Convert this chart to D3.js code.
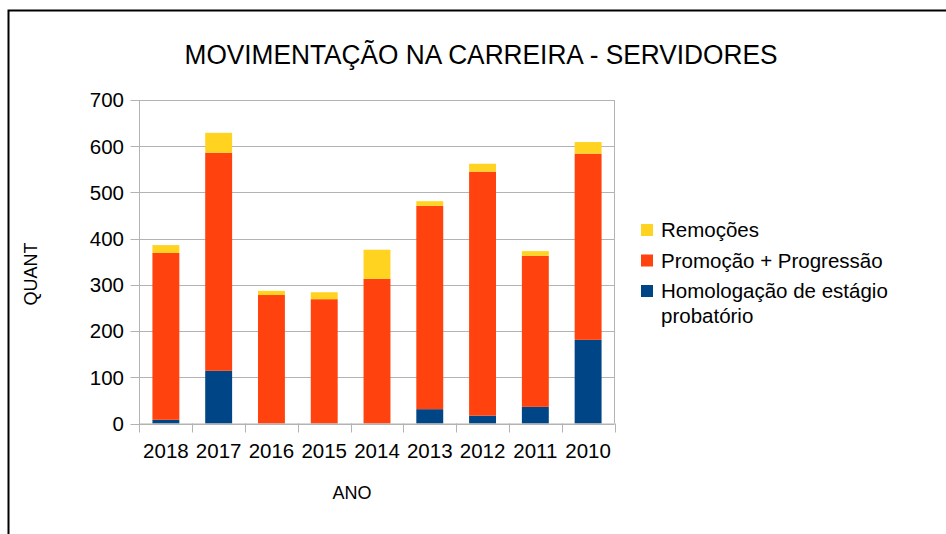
<!DOCTYPE html>
<html>
<head>
<meta charset="utf-8">
<script src="https://cdn.jsdelivr.net/npm/d3@7"></script>
<style>
  body { margin: 0; background: #fff; }
  svg text { font-family: "Liberation Sans", Arial, sans-serif; fill: #000; }
</style>
</head>
<body>
<svg id="chart" width="946" height="534"></svg>
<script>
// data
const anos = ["2018", "2017", "2016", "2015", "2014", "2013", "2012", "2011", "2010"];
const homologacao = [8, 114, 0, 0, 0, 31, 17, 36, 181];
const promocao = [361, 472, 278, 269, 313, 440, 528, 327, 403];
const remocoes = [17, 43, 9, 15, 63, 10, 17, 10, 25];
const yTicks = [0, 100, 200, 300, 400, 500, 600, 700];
const seriesNames = ["Homologação de estágio probatório", "Promoção + Progressão", "Remoções"];
const colors = ["#004586", "#ff420e", "#ffd320"];

const svg = d3.select("#chart");

// outer frame (runs off right / bottom edge)
svg.append("rect")
    .attr("x", 8.5).attr("y", 10.5)
    .attr("width", 960).attr("height", 560)
    .attr("fill", "none")
    .attr("stroke", "#000")
    .attr("stroke-width", 2);

const plot = { left: 139.5, right: 614.5, top: 100, bottom: 423.5 };

const x = d3.scaleBand().domain(anos).range([plot.left, plot.right]).padding(0);
const y = d3.scaleLinear().domain([0, 700]).range([plot.bottom, plot.top]);

// gridlines
svg.append("g")
    .selectAll("line")
    .data(yTicks)
    .join("line")
    .attr("x1", plot.left - 9).attr("x2", plot.right)
    .attr("y1", d => Math.round(y(d)) + 0.5)
    .attr("y2", d => Math.round(y(d)) + 0.5)
    .attr("stroke", "#b3b3b3")
    .attr("stroke-width", 1);

// plot wall right side + axis line
svg.append("line")
    .attr("x1", plot.right).attr("x2", plot.right)
    .attr("y1", plot.top).attr("y2", plot.bottom)
    .attr("stroke", "#b3b3b3");
svg.append("line")
    .attr("x1", plot.left).attr("x2", plot.left)
    .attr("y1", plot.top).attr("y2", plot.bottom + 9)
    .attr("stroke", "#b3b3b3");

// x tick marks at category boundaries
svg.append("g")
    .selectAll("line")
    .data(anos)
    .join("line")
    .attr("x1", d => Math.round(x(d) + x.step()) + 0.5)
    .attr("x2", d => Math.round(x(d) + x.step()) + 0.5)
    .attr("y1", plot.bottom).attr("y2", plot.bottom + 9)
    .attr("stroke", "#b3b3b3");

// stacked bars
const rows = anos.map((a, i) => ({ ano: a, h: homologacao[i], p: promocao[i], r: remocoes[i] }));
const stack = d3.stack().keys(["h", "p", "r"])(rows);
const barW = x.bandwidth() * 0.51;

svg.append("g")
    .selectAll("g")
    .data(stack)
    .join("g")
    .attr("fill", (d, i) => colors[i])
    .selectAll("rect")
    .data(d => d)
    .join("rect")
    .attr("x", d => x(d.data.ano) + (x.bandwidth() - barW) / 2)
    .attr("width", barW)
    .attr("y", d => y(d[1]))
    .attr("height", d => y(d[0]) - y(d[1]));

// bottom axis line redraw
svg.append("line")
    .attr("x1", plot.left).attr("x2", plot.right)
    .attr("y1", plot.bottom + 0.5).attr("y2", plot.bottom + 0.5)
    .attr("stroke", "#b3b3b3");

// y tick labels
svg.append("g")
    .selectAll("text")
    .data(yTicks)
    .join("text")
    .attr("x", 124)
    .attr("y", d => y(d))
    .attr("dy", "0.36em")
    .attr("text-anchor", "end")
    .style("font-size", "20.5px")
    .text(d => d);

// x tick labels
svg.append("g")
    .selectAll("text")
    .data(anos)
    .join("text")
    .attr("x", d => x(d) + x.bandwidth() / 2)
    .attr("y", 458)
    .attr("text-anchor", "middle")
    .style("font-size", "20.5px")
    .text(d => d);

// axis titles
svg.append("text")
    .attr("x", 352).attr("y", 499)
    .attr("text-anchor", "middle")
    .style("font-size", "18px")
    .text("ANO");

svg.append("text")
    .attr("transform", "translate(37,274) rotate(-90)")
    .attr("text-anchor", "middle")
    .style("font-size", "18px")
    .text("QUANT");

// title
svg.append("text")
    .attr("x", 481).attr("y", 64)
    .attr("text-anchor", "middle")
    .attr("textLength", 593)
    .attr("lengthAdjust", "spacingAndGlyphs")
    .style("font-size", "27px")
    .text("MOVIMENTAÇÃO NA CARREIRA - SERVIDORES");

// legend (reversed order like the original)
const legendRows = [
  { name: "Remoções", color: colors[2], lines: ["Remoções"] },
  { name: "Promoção + Progressão", color: colors[1], lines: ["Promoção + Progressão"] },
  { name: seriesNames[0], color: colors[0], lines: ["Homologação de estágio", "probatório"] }
];

const legend = svg.append("g").attr("class", "legend");
const item = legend.selectAll("g")
    .data(legendRows)
    .join("g")
    .attr("transform", (d, i) => `translate(641,${230 + i * 30.5})`);

item.append("rect")
    .attr("x", 0).attr("y", -6)
    .attr("width", 12).attr("height", 12)
    .attr("fill", d => d.color);

item.append("text")
    .style("font-size", "20.5px")
    .selectAll("tspan")
    .data(d => d.lines)
    .join("tspan")
    .attr("x", 20)
    .attr("y", (d, i) => 7 + i * 24.5)
    .text(d => d);
</script>
</body>
</html>
